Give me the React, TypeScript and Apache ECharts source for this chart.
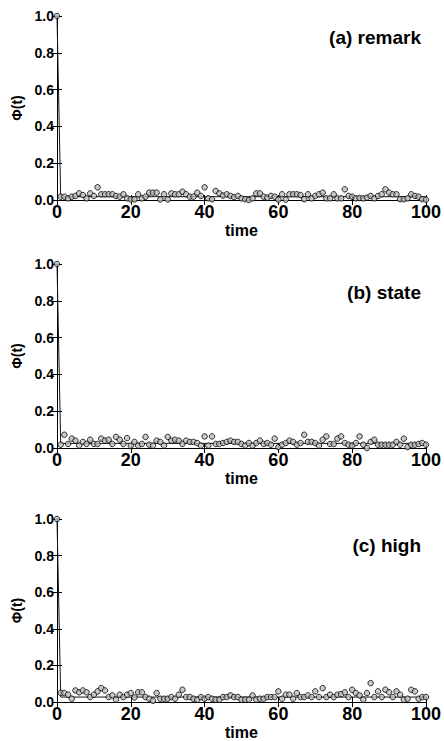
import React, { useEffect, useRef } from "react";
import * as echarts from "echarts";

const panelTitles = ["(a) remark", "(b) state", "(c) high"];
const xTicks = [0, 20, 40, 60, 80, 100];

// Phi(t) for t = 0..100
const remark = [
  1.0,
  0.018, 0.018, 0.009, 0.018, 0.022, 0.036, 0.027, 0.009, 0.036, 0.022,
  0.069, 0.031, 0.031, 0.031, 0.031, 0.022, 0.018, 0.031, 0.009, 0.003,
  0.003, 0.031, 0.009, 0.018, 0.04, 0.04, 0.04, 0.003, 0.031, 0.003,
  0.036, 0.031, 0.031, 0.045, 0.031, 0.018, 0.018, 0.04, 0.022, 0.069,
  0.009, 0.004, 0.049, 0.036, 0.024, 0.031, 0.022, 0.016, 0.022, 0.009,
  0.004, 0.0, 0.009, 0.036, 0.036, 0.018, 0.013, 0.022, 0.018, 0.002,
  0.031, 0.002, 0.031, 0.031, 0.031, 0.027, 0.004, 0.031, 0.009, 0.022,
  0.031, 0.04, 0.009, 0.009, 0.031, 0.009, 0.009, 0.058, 0.022, 0.018,
  0.009, 0.011, 0.009, 0.013, 0.022, 0.009, 0.022, 0.031, 0.058, 0.04,
  0.031, 0.031, 0.004, 0.004, 0.009, 0.031, 0.022, 0.018, 0.004, 0.002,
];
const state = [
  1.0,
  0.018, 0.072, 0.022, 0.051, 0.04, 0.013, 0.033, 0.022, 0.045, 0.022,
  0.022, 0.051, 0.04, 0.045, 0.022, 0.06, 0.045, 0.022, 0.054, 0.013,
  0.033, 0.013, 0.022, 0.06, 0.018, 0.013, 0.04, 0.033, 0.013, 0.06,
  0.04, 0.045, 0.04, 0.022, 0.04, 0.033, 0.033, 0.027, 0.013, 0.063,
  0.013, 0.063, 0.022, 0.022, 0.027, 0.033, 0.04, 0.033, 0.033, 0.022,
  0.013, 0.027, 0.013, 0.027, 0.04, 0.022, 0.027, 0.018, 0.051, 0.005,
  0.018, 0.027, 0.04, 0.033, 0.018, 0.027, 0.072, 0.033, 0.033, 0.027,
  0.013, 0.045, 0.063, 0.022, 0.022, 0.051, 0.063, 0.027, 0.018, 0.013,
  0.027, 0.063, 0.018, 0.0, 0.033, 0.045, 0.018, 0.018, 0.018, 0.018,
  0.018, 0.033, 0.018, 0.051, 0.005, 0.018, 0.018, 0.022, 0.027, 0.018,
];
const high = [
  1.0,
  0.05, 0.049, 0.04, 0.018, 0.063, 0.053, 0.063, 0.053, 0.027, 0.04,
  0.058, 0.076, 0.063, 0.027, 0.036, 0.013, 0.04, 0.027, 0.04, 0.049,
  0.025, 0.053, 0.053, 0.027, 0.018, 0.007, 0.049, 0.018, 0.018, 0.018,
  0.027, 0.018, 0.04, 0.067, 0.027, 0.027, 0.018, 0.013, 0.027, 0.018,
  0.027, 0.018, 0.013, 0.013, 0.027, 0.027, 0.036, 0.027, 0.027, 0.013,
  0.013, 0.013, 0.036, 0.013, 0.018, 0.018, 0.027, 0.027, 0.027, 0.058,
  0.018, 0.04, 0.04, 0.018, 0.049, 0.027, 0.027, 0.036, 0.027, 0.058,
  0.027, 0.076, 0.027, 0.04, 0.027, 0.04, 0.043, 0.053, 0.027, 0.067,
  0.049, 0.036, 0.013, 0.049, 0.103, 0.027, 0.058, 0.027, 0.067, 0.053,
  0.027, 0.058, 0.04, 0.013, 0.018, 0.067, 0.058, 0.018, 0.027, 0.027,
];
// fitted curve: starts at 1, drops to a plateau
const plateaus = [0.018, 0.025, 0.027];

const panels = [remark, state, high];
const gridTops = [16, 264, 519];
const gridHeights = [184, 184, 185];
const titleCenters = [37, 292, 545];

const FONT = "'Liberation Sans', Arial, Helvetica, sans-serif";

export default function App() {
  const ref = useRef<HTMLDivElement>(null);
  useEffect(() => {
    if (!ref.current) return;
    const chart = echarts.init(ref.current, null, { renderer: "svg" });
    const grid: any[] = [];
    const xAxis: any[] = [];
    const yAxis: any[] = [];
    const series: any[] = [];
    const graphic: any[] = [];
    panels.forEach((vals, i) => {
      grid.push({ left: 57, width: 373, top: gridTops[i], height: gridHeights[i] });
      const axisLine = { show: true, lineStyle: { color: "#000", width: 1 } };
      const tick = { show: true, inside: true, length: 5, lineStyle: { color: "#000" } };
      xAxis.push({
        gridIndex: i,
        type: "value",
        min: xTicks[0],
        max: xTicks[xTicks.length - 1],
        interval: 20,
        position: "bottom",
        name: "time",
        nameLocation: "middle",
        nameGap: 22,
        nameTextStyle: { fontFamily: FONT, fontWeight: "bold", fontSize: 16, color: "#000", verticalAlign: "top" },
        axisLine,
        axisTick: tick,
        axisLabel: { fontFamily: FONT, fontWeight: "bold", fontSize: 18, color: "#000", margin: 3 },
        splitLine: { show: false },
      });
      xAxis.push({
        gridIndex: i,
        type: "value",
        min: 0,
        max: 100,
        interval: 20,
        position: "top",
        axisLine,
        axisTick: tick,
        axisLabel: { show: false },
        splitLine: { show: false },
      });
      yAxis.push({
        gridIndex: i,
        type: "value",
        min: 0,
        max: 1,
        interval: 0.2,
        position: "left",
        name: "Φ(t)",
        nameLocation: "middle",
        nameGap: 29,
        nameRotate: 90,
        nameTextStyle: { fontFamily: FONT, fontWeight: "bold", fontSize: 14, color: "#000" },
        axisLine,
        axisTick: tick,
        axisLabel: {
          fontFamily: FONT,
          fontWeight: "bold",
          fontSize: 14,
          color: "#000",
          margin: 3,
          formatter: (v: number) => v.toFixed(1),
        },
        splitLine: { show: false },
      });
      yAxis.push({
        gridIndex: i,
        type: "value",
        min: 0,
        max: 1,
        interval: 0.2,
        position: "right",
        axisLine,
        axisTick: tick,
        axisLabel: { show: false },
        splitLine: { show: false },
      });
      series.push({
        type: "line",
        xAxisIndex: 2 * i,
        yAxisIndex: 2 * i,
        data: [
          [0, vals[0]],
          [1, plateaus[i]],
          [100, plateaus[i]],
        ],
        showSymbol: false,
        symbol: "none",
        lineStyle: { color: "#111", width: 1 },
        z: 2,
      });
      series.push({
        type: "scatter",
        xAxisIndex: 2 * i,
        yAxisIndex: 2 * i,
        data: vals.map((v, t) => [t, v]),
        symbol: "circle",
        symbolSize: 5.5,
        itemStyle: { color: "#bdbdbd", borderColor: "#000", borderWidth: 1 },
        z: 3,
      });
      graphic.push({
        type: "text",
        x: 421,
        y: titleCenters[i],
        style: {
          text: panelTitles[i],
          fontFamily: FONT,
          fontWeight: "bold",
          fontSize: 19,
          fill: "#000",
          align: "right",
          verticalAlign: "middle",
        },
      });
    });
    chart.setOption({
      animation: false,
      backgroundColor: "#fff",
      grid,
      xAxis,
      yAxis,
      series,
      graphic,
    });
    return () => chart.dispose();
  }, []);
  return (
    <div
      ref={ref}
      style={{ position: "absolute", left: 0, top: 0, width: 444, height: 741 }}
    />
  );
}
